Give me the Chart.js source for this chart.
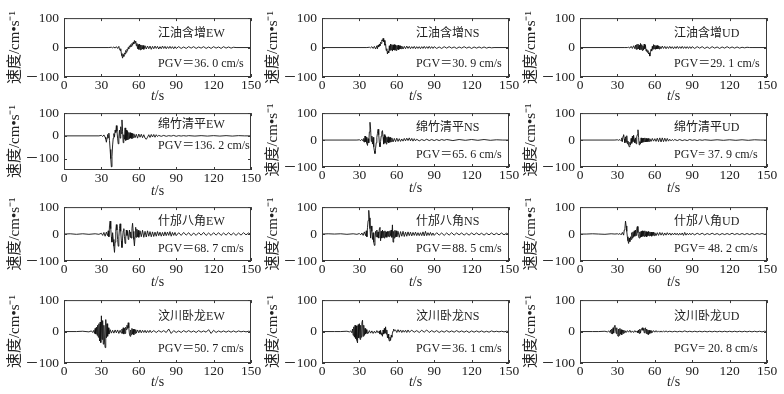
<!DOCTYPE html>
<html><head><meta charset="utf-8">
<script src="https://cdn.jsdelivr.net/npm/chart.js@4/dist/chart.umd.min.js"></script>
<style>
html,body{margin:0;padding:0;background:#fff}
body{width:784px;height:394px;position:relative;overflow:hidden}
canvas{position:absolute}
</style>
</head><body>
<script>
// ---------- tick labels ----------
const xTicks = [0, 30, 60, 90, 120, 150];
const yTicks = [-100, 0, 100];

// ---------- time samples (s) per station row ----------
const T1 = [0,36,38,39,40,41,42,43,44,44.5,45,45.5,46,46.5,47,47.5,48,48.5,49,49.5,50,50.5,51,51.5,52,52.5,53,53.5,54,54.5,55,55.5,56,56.5,57,57.5,58,58.5,59,59.5,60,60.5,61,61.5,62,62.5,63,63.5,64,65,66,67,68,69,70,71,72,73,74,75,76,77,78,79,80,81,82,83,84,85,86,87,88,89,90,92,94,96,98,100,102,104,106,108,110,112,114,116,118,120,122,124,126,128,130,132,134,136,138,150];
const T2 = [0,28,30,31,32,33,33.5,34,34.5,35,35.5,36,36.5,37,37.5,38,38.5,39,39.5,40,40.5,41,41.5,42,42.5,43,43.5,44,44.5,45,45.5,46,46.5,47,47.5,48,48.5,49,49.5,50,50.5,51,51.5,52,52.5,53,53.5,54,54.5,55,55.5,56,57,58,59,60,61,62,63,64,65,66,67,68,69,70,71,72,73,74,75,76,78,80,82,84,86,88,90,92,94,96,98,100,105,110,115,120,125,130,135,140,145,150];
const T3 = [0,5,10,15,20,25,28,30,31,32,33,34,35,35.5,36,36.5,37,37.5,38,38.5,39,39.5,40,40.5,41,41.5,42,42.5,43,43.5,44,44.5,45,45.5,46,46.5,47,47.5,48,48.5,49,49.5,50,50.5,51,51.5,52,52.5,53,53.5,54,54.5,55,55.5,56,56.5,57,57.5,58,58.5,59,59.5,60,61,62,63,64,65,66,67,68,69,70,71,72,73,74,75,76,77,78,79,80,81,82,83,84,85,86,87,88,89,90,92,94,96,98,100,102,104,106,108,110,112,114,116,118,120,122,124,126,128,130,132,134,136,138,140,142,144,146,148,150];
const T4 = [0,10,15,20,22,23,24,24.5,25,25.5,26,26.5,27,27.5,28,28.5,29,29.5,30,30.5,31,31.5,32,32.5,33,33.5,34,34.5,35,35.5,36,37,38,39,40,41,42,43,44,45,46,46.5,47,47.5,48,48.5,49,49.5,50,50.5,51,51.5,52,52.5,53,53.5,54,54.5,55,55.5,56,56.5,57,57.5,58,59,60,61,62,63,64,65,66,67,68,69,70,72,74,76,78,80,82,84,86,88,90,92,94,96,98,100,102,104,106,108,110,112,114,116,118,120,122,124,126,128,130,132,134,136,138,140,142,144,146,148,150];

// ---------- velocity (cm/s) ----------
const jyhzEW = [0,0,1,-1,2,-2,3,-3,4,
 -6,-10,-4,-20,-28,-36,-24,-30,-18,-22,-10,-16,-6,-10,0,-4,6,2,10,4,14,8,18,12,24,16,22,6,14,-4,10,-6,12,-8,9,-6,8,-5,7,-6,
 6,-5,5,-4,5,-6,4,-4,5,-3,4,-5,3,-4,5,-3,4,-4,3,-3,4,-3,3,-4,3,-3,
 3,-3,2,-3,3,-2,3,-3,2,-2,3,-3,2,-3,3,-2,2,-3,3,-2,2,-2,1,0, 0];
const jyhzNS = [0,0,1,-1,3,-3,4,-5,6,
 -4,8,2,12,6,18,14,26,22,31,20,24,8,12,-10,-4,-22,-12,-18,6,-10,12,-8,10,-12,9,-8,10,-9,8,-10,7,-6,8,-7,6,-5,6,-4,5,
 -5,4,-4,5,-3,4,-4,3,-3,4,-4,3,-3,3,-4,3,-3,4,-3,3,-3,4,-3,3,-3,3,
 -3,2,-3,3,-2,3,-2,2,-3,2,-2,3,-2,2,-3,2,-2,2,-2,2,-2,1,-1,0, 0];
const jyhzUD = [0,0,0,1,-2,4,-3,6,-4,
 8,-6,10,-5,12,-4,8,-8,14,-6,10,-10,6,-8,12,-4,8,-12,-6,-16,-10,-22,-18,-29,-14,-6,-12,4,-6,10,-4,8,-6,6,-5,7,-4,5,-5,4,
 -4,5,-3,4,-4,3,-3,4,-3,3,-4,3,-3,4,-3,3,-3,4,-3,3,-3,3,-3,3,-3,3,
 -3,3,-2,3,-3,2,-3,3,-2,2,-3,2,-2,3,-2,2,-2,2,-2,1,-1,1,0,0, 0];

const mzqpEW = [0,0,2,-3,4,-6,
 -14,-28,-10,6,-8,12,-20,-60,-100,-136,-90,-40,-10,10,-5,25,15,45,20,-10,-35,-5,25,-10,40,10,70,20,-30,5,-15,35,-20,25,-18,20,-15,15,-12,14,-10,12,-12,10,-8,9,
 -8,7,-10,8,-6,7,-8,5,-10,-15,-6,5,-7,6,-5,6,-6,5,-3,2,
 -2,2,-2,1,-1,2,-2,1,-1,1,-1,1,
 -1,1,-1,1,-1,1,-1,1,0, 0];
const mzqpNS = [0,0,1,-2,3,-4,
 6,-8,15,-6,10,-12,-20,5,-10,30,66,40,-5,15,-15,10,-25,-40,-50,-30,-10,10,25,40,20,-10,-25,-5,15,30,35,10,-15,20,-10,15,-15,10,-8,12,-10,9,-8,10,-6,8,
 -7,6,-6,7,-5,5,-5,4,-4,6,-3,7,-2,8,-3,6,-4,5,-3,3,
 -3,2,-2,3,-2,2,-2,2,-2,2,-1,2,
 -2,2,-1,2,-1,2,-1,1,0, 0];
const mzqpUD = [0,0,1,-1,2,-3,
 8,-6,14,20,4,-10,12,-8,16,-14,-4,-20,-25,-8,-18,6,-12,14,-6,18,2,-10,8,-14,12,20,38,10,-18,-6,-14,8,-10,6,-8,7,-6,8,-7,6,-6,5,-6,6,-5,5,
 -5,6,-4,5,-5,7,-6,8,-7,8,-6,7,-5,6,-4,3,-3,2,-2,2,
 -2,2,-2,1,-2,2,-1,1,-2,1,-1,1,
 -1,1,-1,1,-1,1,-1,1,0, 0];

const sfbjEW = [0,1,-1,1,-1,1,-1,3,-5,6,-8,7,-6,
 12,-10,30,48,20,-10,-30,5,-20,-45,-68,-30,10,35,15,-20,-45,-10,20,38,10,-25,-50,-15,12,20,-10,-35,-15,15,-5,10,-20,-8,15,-12,8,-15,20,40,10,-20,-44,-10,25,-12,18,-10,14,-12,
 12,-10,14,-12,10,-11,12,-8,9,-10,8,-9,7,-8,9,-6,7,-8,6,-7,8,-6,7,-5,9,-8,6,-5,6,-6,
 5,-5,6,-4,5,-6,4,-5,5,-4,6,-5,4,-5,5,-4,5,-5,4,-4,5,-4,4,-5,4,-4,5,-3,4,-2];
const sfbjNS = [0,1,0,1,-1,1,-1,2,-3,4,-5,8,-6,
 12,-10,25,50,88,60,20,-15,30,10,-20,5,-30,-42,-15,10,-10,15,-12,8,-15,20,25,-25,10,-15,15,-12,10,-15,12,-10,8,-12,10,-8,10,-10,12,-6,15,-12,34,-30,10,-15,14,-10,12,-10,
 10,-12,9,-8,10,-9,7,-8,8,-6,7,-7,6,-5,7,-6,5,-6,5,-6,8,-7,10,-6,5,-5,6,-5,4,-5,
 5,-4,4,-5,4,-4,5,-4,4,-3,4,-4,3,-4,4,-3,4,-3,3,-4,3,-3,4,-3,3,-3,4,-3,3,-2];
const sfbjUD = [0,0,1,0,-1,1,0,1,-1,2,-3,6,-4,
 15,20,48,30,10,-10,-25,-35,-15,-28,-10,-20,5,-15,8,-10,12,-8,15,-5,20,28,5,-10,-15,8,-12,10,-10,12,-8,10,-9,12,-8,9,-10,8,-6,10,-7,8,-6,7,-8,6,-5,7,-6,5,
 -6,5,-5,6,-4,5,-5,4,-4,5,-3,4,-4,3,-3,4,-3,3,-4,3,-3,4,-5,6,-4,3,-3,3,-3,3,
 -3,3,-2,3,-3,2,-2,3,-2,2,-3,2,-2,2,-2,3,-2,2,-2,2,-2,2,-2,2,-2,2,-1,2,-1,1];

const wcwlEW = [0,0,1,-1,2,-3,4,
 -6,10,-8,14,-12,20,-18,25,-30,30,-35,50,-25,35,-40,20,-30,-51,38,-20,25,-15,12,-8,
 6,-5,4,-5,5,-4,5,-6,4,-5,
 8,-6,12,-8,10,-6,14,6,20,10,28,12,-8,-15,5,-10,10,-8,8,-10,7,-6,6,-5,
 5,-4,5,-4,4,-3,4,-4,3,-3,4,-3,
 3,-3,3,-2,3,-3,8,-6,3,-3,2,-3,3,-2,3,-2,2,-3,3,-2,2,-2,6,-6,4,-3,2,-2,2,-2,2,-2,2,-2,2,-1,1,-1,1,0];
const wcwlNS = [0,0,0,1,-1,2,-4,
 8,-12,15,-18,20,-22,18,-28,-36,22,-20,25,-25,20,-18,28,36,-15,20,-12,10,-8,6,-5,
 -6,3,-5,2,-6,1,-5,3,-4,2,
 -8,4,-10,-4,-15,5,-8,10,-5,15,-8,5,-20,-8,-22,-30,-18,-28,-12,-18,-5,2,8,2,
 5,-3,6,-2,5,-3,4,-2,4,-3,5,-2,
 4,-2,3,-3,4,-2,5,-3,3,-2,3,-3,2,-2,3,-2,2,-2,3,-2,2,-2,2,-3,2,-2,2,-2,2,-2,1,-2,2,-1,1,-1,1,-1,1,0];
const wcwlUD = [0,0,0,1,-1,2,-3,
 5,-6,8,-8,12,-5,16,20,8,-6,12,-10,-15,8,-12,10,-8,6,-10,5,-6,4,-4,3,
 -3,3,-2,4,-3,2,-3,3,-2,2,
 -4,5,-6,8,-5,6,10,12,4,9,-4,10,12,-6,8,-8,5,-10,4,-6,3,-4,3,-3,
 3,-2,3,-2,2,-2,2,-2,2,-1,2,-1,
 1,-1,1,-1,1,-1,2,-1,1,-1,1,-1,1,-1,1,-1,1,-1,1,-1,1,-1,1,-1,1,-1,1,-1,1,-1,1,-1,1,-1,1,-1,1,-1,1,0];

// ---------- panel labels ----------
const names = ['江油含增EW','江油含增NS','江油含增UD','绵竹清平EW','绵竹清平NS','绵竹清平UD','什邡八角EW','什邡八角NS','什邡八角UD','汶川卧龙EW','汶川卧龙NS','汶川卧龙UD'];
const pgvLabels = ['PGV＝36. 0 cm/s','PGV＝30. 9 cm/s','PGV＝29. 1 cm/s','PGV＝136. 2 cm/s','PGV＝65. 6 cm/s','PGV= 37. 9 cm/s','PGV＝68. 7 cm/s','PGV＝88. 5 cm/s','PGV= 48. 2 cm/s','PGV＝50. 7 cm/s','PGV＝36. 1 cm/s','PGV= 20. 8 cm/s'];
const times = [T1,T1,T1,T2,T2,T2,T3,T3,T3,T4,T4,T4];
const series = [jyhzEW,jyhzNS,jyhzUD,mzqpEW,mzqpNS,mzqpUD,sfbjEW,sfbjNS,sfbjUD,wcwlEW,wcwlNS,wcwlUD];
const yMins = [-100,-100,-100,-150,-100,-100,-100,-100,-100,-100,-100,-100];
const yMax = 100;

// ---------- layout (pixels) ----------
const colLeft = [64, 322, 580];
const plotW = 187;
const rowTop = [15, 110, 204, 297];
const rowH = [62, 57, 57, 66];
const titleOff = [19, 21, 21, 19];
const AXW = 60, PADT = 10, PADR = 14, AXH = 30;
const FONT = "'Liberation Serif','Noto Sans CJK SC',serif";

function fmtY(v){ return v < 0 ? '－' + Math.abs(v) : String(v); }

const framePlugin = {
  id: 'frame',
  afterDraw(chart, args, o) {
    const {ctx, chartArea: a, scales: {x, y}} = chart;
    ctx.save();
    ctx.strokeStyle = '#3a3a3a';
    ctx.lineWidth = 1;
    ctx.strokeRect(a.left + 0.5, a.top + 0.5, a.right - a.left - 1, a.bottom - a.top - 1);
    ctx.beginPath();
    xTicks.forEach(v => {
      const px = Math.round(x.getPixelForValue(v)) + 0.5;
      ctx.moveTo(px, a.bottom); ctx.lineTo(px, a.bottom - 3);
      ctx.moveTo(px, a.top); ctx.lineTo(px, a.top + 3);
    });
    yTicks.forEach(v => {
      const py = Math.round(y.getPixelForValue(v)) + 0.5;
      ctx.moveTo(a.left, py); ctx.lineTo(a.left + 3, py);
      ctx.moveTo(a.right, py); ctx.lineTo(a.right - 3, py);
    });
    ctx.stroke();
    // station name & PGV
    ctx.fillStyle = '#222';
    ctx.textBaseline = 'middle';
    ctx.textAlign = 'left';
    ctx.font = '12px ' + FONT;
    const tx = x.getPixelForValue(o.textT);
    const h = a.bottom - a.top;
    ctx.fillText(o.name, tx, a.top + o.nameF * h);
    ctx.fillText(o.pgv, tx, a.top + o.pgvF * h);
    // x-axis title: italic t + /s
    const cx = (a.left + a.right) / 2;
    const ty = a.bottom + o.titleOff;
    ctx.font = 'italic 14px ' + FONT;
    const w1 = ctx.measureText('t').width;
    ctx.font = '14px ' + FONT;
    const w2 = ctx.measureText('/s').width;
    const sx = cx - (w1 + w2) / 2;
    ctx.font = 'italic 14px ' + FONT;
    ctx.fillText('t', sx, ty);
    ctx.font = '14px ' + FONT;
    ctx.fillText('/s', sx + w1, ty);
    ctx.restore();
  }
};

for (let i = 0; i < 12; i++) {
  const r = Math.floor(i / 3), c = i % 3;
  const h = (i === 3) ? 60 : rowH[r];
  const cv = document.createElement('canvas');
  const W = AXW + plotW + PADR, H = PADT + h + AXH;
  cv.width = W; cv.height = H;
  cv.style.left = (colLeft[c] - AXW) + 'px';
  cv.style.top = (rowTop[r] - PADT) + 'px';
  cv.style.width = W + 'px'; cv.style.height = H + 'px';
  document.body.appendChild(cv);
  const t = times[i], v = series[i];
  const n = Math.min(t.length, v.length);
  const pts = [];
  for (let k = 0; k < n; k++) pts.push({x: t[k], y: v[k]});
  new Chart(cv, {
    type: 'line',
    data: { datasets: [{ data: pts, borderColor: '#111', borderWidth: 0.9, pointRadius: 0, tension: 0, fill: false }] },
    options: {
      responsive: false, animation: false, devicePixelRatio: 1,
      layout: { padding: { top: PADT, right: PADR, left: 0, bottom: 0 } },
      plugins: {
        legend: { display: false }, tooltip: { enabled: false },
        frame: { name: names[i], pgv: pgvLabels[i], textT: 75.5, titleOff: titleOff[r],
                 nameF: (i === 3) ? 0.2 : 0.27, pgvF: (i === 3) ? 0.58 : 0.78 }
      },
      scales: {
        x: {
          type: 'linear', min: 0, max: 150,
          afterBuildTicks: s => { s.ticks = xTicks.map(val => ({value: val})); },
          afterFit: s => { s.height = AXH; },
          grid: { display: false, drawTicks: false },
          border: { display: false },
          ticks: { padding: 0, color: '#222', font: { family: FONT, size: 13.5 }, maxRotation: 0, autoSkip: false }
        },
        y: {
          type: 'linear', min: yMins[i], max: yMax,
          afterBuildTicks: s => { s.ticks = yTicks.map(val => ({value: val})); },
          afterFit: s => { s.width = AXW; },
          grid: { display: false, drawTicks: false },
          border: { display: false },
          ticks: { padding: 5, color: '#222', font: { family: FONT, size: 13.5 }, callback: fmtY },
          title: { display: true, text: '速度/cm•s⁻¹', color: '#222', font: { family: FONT, size: 15 }, padding: { top: 2, bottom: 0 } }
        }
      }
    },
    plugins: [framePlugin]
  });
}
</script>
</body></html>
